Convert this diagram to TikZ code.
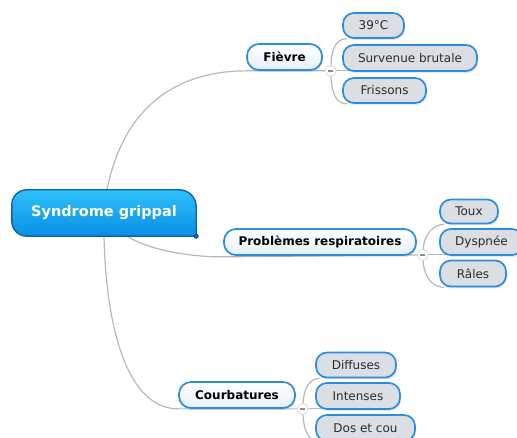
\documentclass[tikz,border=0pt]{standalone}
\usepackage{fontspec}
\setmainfont{DejaVu Sans}
\usetikzlibrary{calc,shadows,backgrounds}
\definecolor{rootT}{HTML}{2EC0FA}
\definecolor{rootBot}{HTML}{0A8FE5}
\definecolor{rootB}{HTML}{0D62AE}
\definecolor{topicB}{HTML}{2A8DE2}
\definecolor{mainBot}{HTML}{E8F0FA}
\definecolor{childF}{HTML}{DBDEE3}
\definecolor{childT}{HTML}{2B2B2B}
\definecolor{lineC}{HTML}{B8B8B8}
\begin{document}
\begin{tikzpicture}[x=1pt,y=-1pt,
  maintopic/.style={draw=topicB, line width=1.7pt, rounded corners=12pt,
    top color=white, bottom color=mainBot, text=black, inner sep=0pt,
    font=\fontsize{12}{14}\selectfont\bfseries,
    drop shadow={shadow xshift=1pt, shadow yshift=-2pt, opacity=0.2}},
  subtopic/.style={draw=topicB, line width=1.7pt, rounded corners=11pt,
    fill=childF, text=childT, inner sep=0pt,
    font=\fontsize{12}{14}\selectfont,
    drop shadow={shadow xshift=1pt, shadow yshift=-2pt, opacity=0.2}},
  link/.style={draw=lineC, line width=1.2pt},
  junc/.style={circle, fill=white, draw=black!18, line width=0.6pt, minimum size=11pt, inner sep=0pt,
    path picture={\draw[black!45, line width=1.4pt]
      ([xshift=-2.6pt]path picture bounding box.center) -- ([xshift=2.6pt]path picture bounding box.center);}}
]
\useasboundingbox (0,0) rectangle (517,438);

% root
\node[font=\fontsize{14.5}{17}\selectfont\bfseries, text=white, minimum width=184pt, minimum height=46pt, inner sep=0pt] (root) at (104,213) {Syndrome grippal};

% main topics
\node[maintopic, minimum width=75pt, minimum height=26pt] (fev) at (284.5,57) {Fièvre};
\node[maintopic, minimum width=192pt, minimum height=26pt] (pr) at (320,242) {Problèmes respiratoires};
\node[maintopic, minimum width=116pt, minimum height=26pt] (cb) at (237,395) {Courbatures};

% subtopics
\node[subtopic, minimum width=61pt, minimum height=25pt] (f1) at (373.5,25.5) {39°C};
\node[subtopic, minimum width=134pt, minimum height=26pt] (f2) at (410,58) {Survenue brutale};
\node[subtopic, minimum width=83pt, minimum height=25pt] (f3) at (384.5,90.5) {Frissons};

\node[subtopic, minimum width=58pt, minimum height=24pt] (p1) at (469,211.5) {Toux};
\node[subtopic, minimum width=83pt, minimum height=26pt] (p2) at (481.5,242) {Dyspnée};
\node[subtopic, minimum width=66pt, minimum height=26pt] (p3) at (473,273.5) {Râles};

\node[subtopic, minimum width=80pt, minimum height=25pt] (c1) at (356,365) {Diffuses};
\node[subtopic, minimum width=84pt, minimum height=26pt] (c2) at (358,396) {Intenses};
\node[subtopic, minimum width=99pt, minimum height=26pt] (c3) at (365.5,428) {Dos et cou};

% junctions
\coordinate (jF) at ($(fev.south east)+(8,0)$);
\coordinate (jP) at ($(pr.south east)+(6,-1)$);
\coordinate (jC) at ($(cb.south east)+(7,0)$);

\begin{pgfonlayer}{background}
  % links from root
  \draw[link] ([xshift=3pt]root.north) .. controls +(18,-90) and +(-62,0) .. (fev.south west) -- (jF);
  \draw[link] ([xshift=23pt]root.south) .. controls +(23,14) and +(-35,0) .. ([yshift=-1pt]pr.south west) -- (jP);
  \draw[link] (root.south) .. controls +(2,94) and +(-50,0) .. (cb.south west) -- (jC);
  % links to subtopics
  \draw[link] (jF) .. controls +(0,-25) and +(-10,0) .. ([xshift=5pt]f1.south west);
  \draw[link] (jF) -- (jF -| f2.center);
  \draw[link] (jF) .. controls +(0,25) and +(-10,0) .. ([xshift=5pt]f3.south west);
  \draw[link] (jP) .. controls +(0,-22) and +(-10,0) .. ([xshift=5pt]p1.south west);
  \draw[link] (jP) -- (jP -| p2.center);
  \draw[link] (jP) .. controls +(0,25) and +(-10,0) .. ([xshift=5pt]p3.south west);
  \draw[link] (jC) .. controls +(0,-22) and +(-10,0) .. ([xshift=5pt]c1.south west);
  \draw[link] (jC) -- (jC -| c2.center);
  \draw[link] (jC) .. controls +(0,25) and +(-10,0) .. ([xshift=5pt]c3.south west);
  % root shape
  \path[draw=rootB, line width=1.4pt, top color=rootT, bottom color=rootBot]
    (root.south east) -- ($(root.south west)+(15,0)$)
    .. controls ($(root.south west)+(6.7,0)$) and ($(root.south west)+(0,-6.7)$) .. ($(root.south west)+(0,-15)$)
    -- ($(root.north west)+(0,15)$)
    .. controls ($(root.north west)+(0,6.7)$) and ($(root.north west)+(6.7,0)$) .. ($(root.north west)+(15,0)$)
    -- ($(root.north east)+(-17,0)$)
    .. controls ($(root.north east)+(-7.6,0)$) and ($(root.north east)+(0,7.6)$) .. ($(root.north east)+(0,17)$)
    -- cycle;
  \fill[rootB] (root.south east) circle[radius=2.6pt];
\end{pgfonlayer}

\node[junc] (jFn) at (jF) {};
\node[junc] (jPn) at (jP) {};
\node[junc] (jCn) at (jC) {};
\end{tikzpicture}
\end{document}
